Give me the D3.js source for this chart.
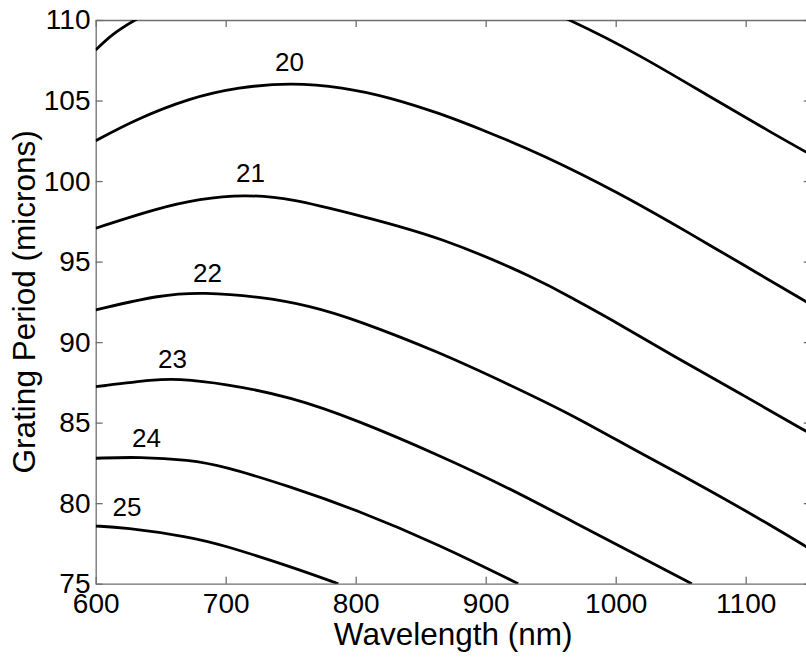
<!DOCTYPE html>
<html>
<head>
<meta charset="utf-8">
<script src="https://cdnjs.cloudflare.com/ajax/libs/d3/7.8.5/d3.min.js"></script>
<style>
	body { margin: 0; background: #fff; }
	svg text { font-family: "Liberation Sans", Arial, sans-serif; fill: #000; }
</style>
</head>
<body>
<svg id="chart" width="806" height="659"></svg>
<script>
// grating order of each contour, and the curve traced for it: [wavelength nm, period microns]
// (order 19 peaks above the window and is clipped)
const orders = [19, 20, 21, 22, 23, 24, 25];

const curve19 = [[600, 108.14], [613, 109.15], [630, 110], [655, 111.1], [700, 112.4], [760, 113.3],
	[800, 113.4], [850, 113], [910, 111.9], [966, 110], [1019, 107.8], [1070, 105.35], [1121, 102.95], [1150, 101.64]];
const curve20 = [[600, 102.5], [630, 103.8], [672, 105.15], [710, 105.84], [750, 106.1], [790, 105.84],
	[826, 105.2], [865, 104.2], [900, 103.1], [942, 101.7], [1003, 99.25], [1057, 96.75], [1096, 94.9], [1150, 92.35]];
const curve21 = [[600, 97.07], [647, 98.3], [680, 98.9], [714, 99.17], [750, 98.93], [801, 97.89],
	[865, 96.55], [942, 93.85], [967, 92.7], [1000, 91.25], [1044, 89.15], [1096, 86.8], [1150, 84.3]];
const curve22 = [[600, 92.0], [650, 92.95], [683, 93.1], [726, 92.82], [765, 92.26], [801, 91.37],
	[865, 89.35], [916, 87.44], [967, 85.47], [1019, 83.09], [1070, 80.92], [1121, 78.54], [1150, 77.13]];
const curve23 = [[600, 87.23], [647, 87.69], [662, 87.72], [698, 87.44], [750, 86.61], [801, 85.16],
	[865, 82.95], [916, 81.02], [967, 78.85], [1019, 76.67], [1058.5, 75]];
const curve24 = [[600, 82.79], [634, 82.88], [672, 82.68], [698, 82.31], [750, 81.02], [801, 79.57],
	[865, 77.4], [925, 75]];
const curve25 = [[600, 78.58], [621, 78.5], [672, 77.92], [698, 77.4], [750, 76.06], [786.6, 75]];

const curves = [curve19, curve20, curve21, curve22, curve23, curve24, curve25];

// contour labels (order 19 has none), anchored in data units
const labelOrders = [20, 21, 22, 23, 24, 25];
const labelNm = [749, 719, 686, 659, 639, 624];
const labelPeriod = [106.85, 99.96, 93.75, 88.4, 83.46, 79.19];

const xTicks = [600, 700, 800, 900, 1000, 1100];
const yTicks = [75, 80, 85, 90, 95, 100, 105, 110];

/* ------------------------------------------------------ */

let svg = d3.select("#chart");
let plotLeft = 95.7, plotRight = 810.7, plotTop = 20, plotBottom = 583.7;

let x = d3.scaleLinear().domain([600, 1150]).range([plotLeft, plotRight]);
let y = d3.scaleLinear().domain([75, 110]).range([plotBottom, plotTop]);

svg.append("rect")
	.attr("width", 806).attr("height", 659)
	.attr("fill", "#fff");

svg.append("clipPath").attr("id", "plotClip")
	.append("rect")
	.attr("x", plotLeft).attr("y", plotTop)
	.attr("width", plotRight - plotLeft).attr("height", plotBottom - plotTop);

let axisColor = "#6e6e6e";
let styleAxis = g => {
	g.select(".domain").attr("stroke", axisColor).attr("stroke-width", 1.3);
	g.selectAll(".tick line").attr("stroke", axisColor).attr("stroke-width", 1.3);
	g.selectAll(".tick text").attr("font-size", 28).attr("fill", "#000");
};

svg.append("g")
	.attr("transform", "translate(0," + plotBottom + ")")
	.call(d3.axisBottom(x).tickValues(xTicks).tickFormat(d3.format("d"))
		.tickSizeInner(-7).tickSizeOuter(0).tickPadding(9.5))
	.call(styleAxis);

svg.append("g")
	.attr("transform", "translate(0," + plotTop + ")")
	.call(d3.axisTop(x).tickValues(xTicks).tickSizeInner(-7).tickSizeOuter(0).tickFormat(""))
	.call(styleAxis);

svg.append("g")
	.attr("transform", "translate(" + plotLeft + ",0)")
	.call(d3.axisLeft(y).tickValues(yTicks).tickFormat(d3.format("d"))
		.tickSizeInner(-7).tickSizeOuter(0).tickPadding(5.2))
	.call(styleAxis);

svg.append("g")
	.attr("transform", "translate(" + plotRight + ",0)")
	.call(d3.axisRight(y).tickValues(yTicks).tickSizeInner(-7).tickSizeOuter(0).tickFormat(""))
	.call(styleAxis);

// contour lines
let line = d3.line()
	.x(d => x(d[0]))
	.y(d => y(d[1]))
	.curve(d3.curveBasis);

svg.append("g")
	.attr("clip-path", "url(#plotClip)")
	.selectAll("path")
	.data(curves)
	.enter().append("path")
	.attr("d", line)
	.attr("fill", "none")
	.attr("stroke", "#000")
	.attr("stroke-width", 2.8)
	.attr("stroke-linejoin", "round");

svg.append("g")
	.selectAll("text")
	.data(labelOrders)
	.enter().append("text")
	.attr("x", (d, i) => x(labelNm[i]))
	.attr("y", (d, i) => y(labelPeriod[i]))
	.attr("text-anchor", "middle")
	.attr("font-size", 26)
	.text(d => d);

// axis titles
svg.append("text")
	.attr("x", (plotLeft + plotRight) / 2)
	.attr("y", 645)
	.attr("text-anchor", "middle")
	.attr("font-size", 31.5)
	.text("Wavelength (nm)");

svg.append("text")
	.attr("transform", "translate(35," + (plotTop + plotBottom) / 2 + ") rotate(-90)")
	.attr("text-anchor", "middle")
	.attr("font-size", 31.5)
	.text("Grating Period (microns)");
</script>
</body>
</html>
